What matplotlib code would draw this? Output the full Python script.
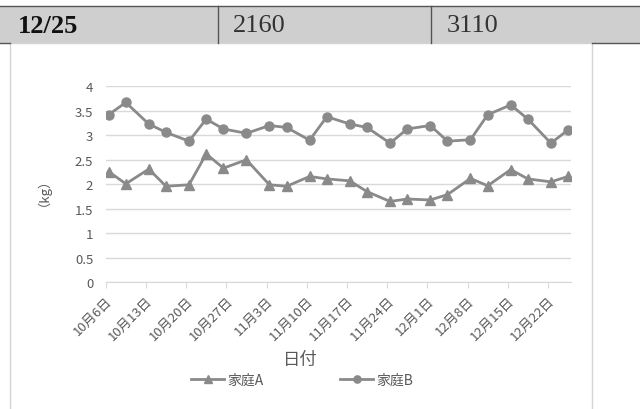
import numpy as np
import pandas as pd
import matplotlib
matplotlib.use("Agg")
import matplotlib.pyplot as plt
import matplotlib.transforms as mtransforms
from matplotlib.patches import Rectangle
from matplotlib.lines import Line2D

plt.rcParams['font.family'] = ['Noto Sans CJK JP', 'DejaVu Sans']

# table row above the chart
row_cells = ['12/25', '2160', '3110']

# measurement days (Mon / Thu) and weights in kg
dates = ['2014-10-06', '2014-10-09', '2014-10-13', '2014-10-16', '2014-10-20', '2014-10-23',
         '2014-10-26', '2014-10-30', '2014-11-03', '2014-11-06', '2014-11-10', '2014-11-13',
         '2014-11-17', '2014-11-20', '2014-11-24', '2014-11-27', '2014-12-01', '2014-12-04',
         '2014-12-08', '2014-12-11', '2014-12-15', '2014-12-18', '2014-12-22', '2014-12-25']
family_a = [2.26, 2.01, 2.31, 1.96, 1.99, 2.62, 2.33, 2.50, 1.99, 1.96, 2.16, 2.11,
            2.07, 1.85, 1.65, 1.70, 1.68, 1.79, 2.12, 1.97, 2.30, 2.11, 2.05, 2.16]
family_b = [3.42, 3.67, 3.23, 3.06, 2.88, 3.33, 3.13, 3.04, 3.20, 3.16, 2.90, 3.38,
            3.23, 3.16, 2.84, 3.13, 3.20, 2.88, 2.91, 3.42, 3.62, 3.33, 2.84, 3.11]
series_names = ['家庭A', '家庭B']
y_ticks = [0, 0.5, 1, 1.5, 2, 2.5, 3, 3.5, 4]
y_labels = ['0', '0.5', '1', '1.5', '2', '2.5', '3', '3.5', '4']

W, H = 640, 410
fig = plt.figure(figsize=(W / 100, H / 100), dpi=100)

def fx(px):
    return px / W

def fy(py):
    return 1 - py / H

# table row
fig.patches.append(Rectangle((0, fy(44)), 1, fy(7) - fy(44), transform=fig.transFigure,
                             facecolor='#cfcfcf', edgecolor='none', zorder=0))
fig.add_artist(Line2D([0, 1], [fy(7), fy(7)], transform=fig.transFigure, color='#555555', lw=1))
for seg in [(0, 10), (592, 640)]:
    fig.add_artist(Line2D([fx(seg[0]), fx(seg[1])], [fy(44), fy(44)], transform=fig.transFigure,
                          color='#555555', lw=1))
for xd in [218, 431]:
    fig.add_artist(Line2D([fx(xd), fx(xd)], [fy(7), fy(44)], transform=fig.transFigure,
                          color='#555555', lw=1))
cell_x = [18, 233, 447]
for i, txt in enumerate(row_cells):
    fig.text(fx(cell_x[i]), fy(26.5), txt, ha='left', va='center', fontsize=19,
             family='Liberation Serif', fontweight='bold' if i == 0 else 'normal',
             color='#111111' if i == 0 else '#333333')

# chart frame
fig.patches.append(Rectangle((fx(10), -0.01), fx(592) - fx(10), fy(44) + 0.01,
                             transform=fig.transFigure, facecolor='white',
                             edgecolor='#d4d4d4', lw=1, zorder=1))

# plot area
x0_px, x1_px, y0_px, y1_px = 105.7, 571, 283.3, 87.3
ax = fig.add_axes([fx(x0_px), fy(y0_px), fx(x1_px) - fx(x0_px), fy(y1_px) - fy(y0_px)])
ax.set_zorder(2)
ax.patch.set_alpha(0)

d = pd.to_datetime(dates)
start = pd.Timestamp('2014-10-06')
xday = (d - start).days.values + 0.5

ax.plot(xday, family_a, color='#8a8a8a', lw=2.0, marker='^', ms=6.5, label=series_names[0])
ax.plot(xday, family_b, color='#8a8a8a', lw=2.0, marker='o', ms=6.5, label=series_names[1])

ax.set_xlim(0, 81)
ax.set_ylim(0, 4)
ax.set_yticks(y_ticks)
ax.set_yticklabels(y_labels)
ax.grid(axis='y', color='#d9d9d9', lw=1)
ax.set_axisbelow(True)

xt = np.arange(0, 78, 7)
xt_labels = []
for k in xt:
    t = start + pd.Timedelta(days=int(k))
    xt_labels.append(f'{t.month}月{t.day}日')
ax.set_xticks(xt)
ax.set_xticklabels(xt_labels, rotation=45, ha='right', rotation_mode='anchor')
shift = mtransforms.ScaledTranslation(6 / 100, 0, fig.dpi_scale_trans)
for lab in ax.get_xticklabels():
    lab.set_transform(lab.get_transform() + shift)

for s in ['top', 'right', 'left']:
    ax.spines[s].set_visible(False)
ax.spines['bottom'].set_color('#d9d9d9')
ax.tick_params(axis='y', length=0, pad=9, labelsize=9.5, labelcolor='#595959')
ax.tick_params(axis='x', length=4, color='#d9d9d9', pad=4, labelsize=9.5, labelcolor='#595959')

fig.text(fx(37), fy(185), '（kg）', rotation=90, ha='center', va='center',
         fontsize=9.5, color='#595959')
fig.text(fx(300), fy(360), '日付', ha='center', va='center', fontsize=12.5, color='#595959')

fig.legend(loc='center', bbox_to_anchor=(fx(302), fy(381)), ncol=2, frameon=False,
           fontsize=10, labelcolor='#595959', handlelength=2.4, handletextpad=0.2,
           columnspacing=5.5, markerscale=0.8)

fig.savefig('out.png', dpi=100)
